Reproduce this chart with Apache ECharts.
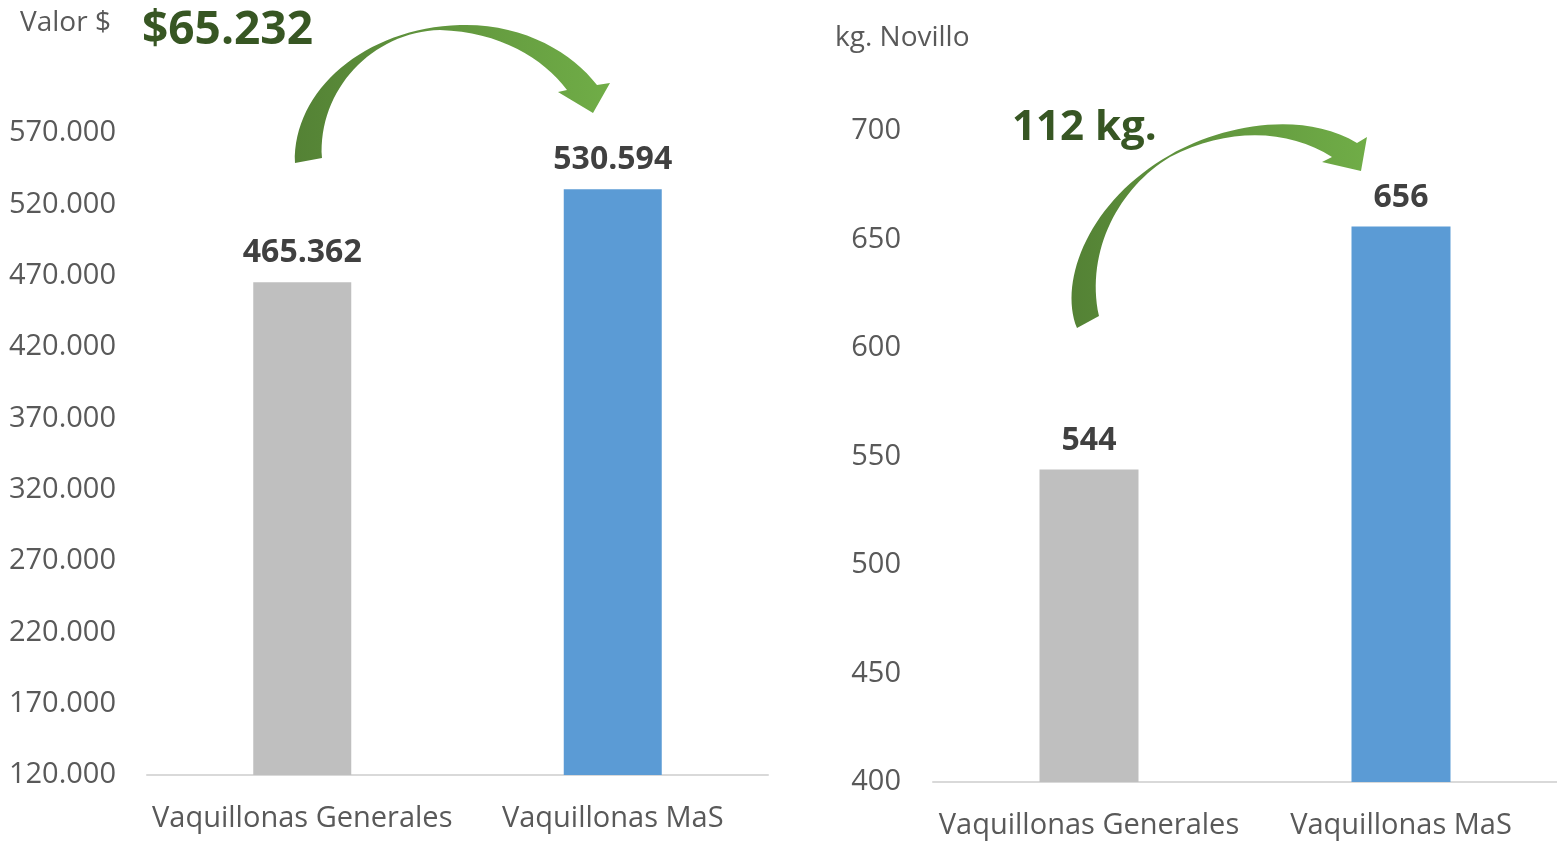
<!DOCTYPE html>
<html>
<head>
<meta charset="utf-8">
<script src="https://cdn.jsdelivr.net/npm/echarts@6/dist/echarts.min.js"></script>
<style>
  html, body { margin: 0; padding: 0; background: #ffffff; }
  #chart { width: 1557px; height: 841px; }
</style>
</head>
<body>
<div id="chart"></div>
<script>
// datos
const categories = ['Vaquillonas Generales', 'Vaquillonas MaS'];
const valorPesos = [465362, 530594];
const kgNovillo = [544, 656];
const valorTicks = [120000, 570000, 50000];  // min, max, intervalo
const kgTicks = [400, 700, 50];
const barColors = ['#bfbfbf', '#5b9bd5'];

const font = '"Open Sans", "Noto Sans", sans-serif';

// formato 570.000
const fmtMiles = (v) => String(Math.round(v)).replace(/\B(?=(\d{3})+(?!\d))/g, '.');

const difValor = valorPesos[1] - valorPesos[0];
const difKg = kgNovillo[1] - kgNovillo[0];

// flechas curvas (decoracion)
const arrowPaths = [
  'M 295 163 C 293 90 365 28 460 25 C 522 23 572 52 597 85 L 610 83 L 593 113 L 558 92 L 567 90 C 543 58 500 32 440 30 C 372 32 318 90 322 158 Z',
  'M 1077 328 C 1058 280 1090 200 1170 155 C 1222 125 1302 110 1357 143 L 1367 137 L 1361 171 L 1322 162 L 1332 157 C 1290 130 1230 126 1170 157 C 1120 187 1085 250 1099 316 Z'
];

const barData = (vals) => vals.map((v, i) => ({ value: v, itemStyle: { color: barColors[i] } }));

const axisLabelStyle = { color: '#595959', fontFamily: font, fontSize: 29 };

const myChart = echarts.init(document.getElementById('chart'));

const option = {
  backgroundColor: '#ffffff',
  animation: false,
  grid: [
    { left: 147, right: 789, top: 133, bottom: 66 },
    { left: 933, right: 0, top: 131, bottom: 59 }
  ],
  xAxis: [0, 1].map(i => ({
    type: 'category',
    gridIndex: i,
    data: categories,
    axisTick: { show: false },
    axisLine: { lineStyle: { color: '#d9d9d9', width: 2 } },
    axisLabel: Object.assign({ margin: 29, interval: 0 }, axisLabelStyle)
  })),
  yAxis: [
    {
      type: 'value', gridIndex: 0,
      min: valorTicks[0], max: valorTicks[1], interval: valorTicks[2],
      splitLine: { show: false },
      axisLine: { show: false }, axisTick: { show: false },
      axisLabel: Object.assign({ margin: 31, formatter: fmtMiles, padding: [8, 0, 0, 0] }, axisLabelStyle)
    },
    {
      type: 'value', gridIndex: 1,
      min: kgTicks[0], max: kgTicks[1], interval: kgTicks[2],
      splitLine: { show: false },
      axisLine: { show: false }, axisTick: { show: false },
      axisLabel: Object.assign({ margin: 32, padding: [8, 0, 0, 0] }, axisLabelStyle)
    }
  ],
  series: [
    {
      type: 'bar', xAxisIndex: 0, yAxisIndex: 0,
      data: barData(valorPesos), barWidth: 98,
      label: {
        show: true, position: 'top', distance: 13,
        formatter: (p) => fmtMiles(p.value),
        color: '#404040', fontFamily: font, fontWeight: 'bold', fontSize: 32
      }
    },
    {
      type: 'bar', xAxisIndex: 1, yAxisIndex: 1,
      data: barData(kgNovillo), barWidth: 99,
      label: {
        show: true, position: 'top', distance: 13,
        color: '#404040', fontFamily: font, fontWeight: 'bold', fontSize: 32
      }
    },
    {
      type: 'custom',
      coordinateSystem: 'none',
      silent: true,
      data: [0, 1],
      renderItem: (params) => ({
        type: 'path',
        shape: { pathData: arrowPaths[params.dataIndex] },
        style: {
          fill: new echarts.graphic.LinearGradient(0, 0, 1, 0, [
            { offset: 0, color: '#548235' },
            { offset: 1, color: '#70ad47' }
          ])
        }
      })
    }
  ],
  graphic: [
    {
      type: 'text', left: 20, top: 9,
      style: { text: 'Valor $', fill: '#595959', font: '28px ' + font }
    },
    {
      type: 'text', left: 835, top: 24,
      style: { text: 'kg. Novillo', fill: '#595959', font: '28px ' + font }
    },
    {
      type: 'text', left: 142, top: 8,
      style: { text: '$' + fmtMiles(difValor), fill: '#375623', font: 'bold 46px ' + font }
    },
    {
      type: 'text', left: 1012, top: 107,
      style: { text: difKg + ' kg.', fill: '#375623', font: 'bold 42px ' + font }
    }
  ]
};

myChart.setOption(option);
window.addEventListener('resize', () => myChart.resize());
</script>
</body>
</html>
